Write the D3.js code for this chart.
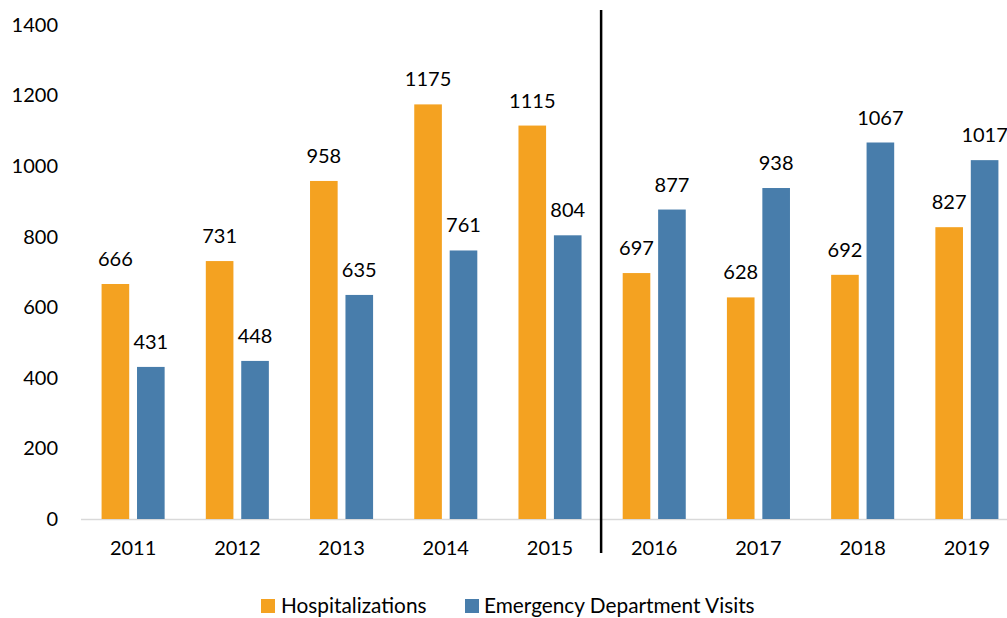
<!DOCTYPE html>
<html>
<head>
<meta charset="utf-8">
<script src="https://cdn.jsdelivr.net/npm/d3@7"></script>
<style>
  html, body { margin: 0; padding: 0; background: #fff; }
  svg { display: block; font-family: Lato, "Open Sans", sans-serif; }
</style>
</head>
<body>
<svg id="chart" width="1007" height="618"></svg>
<script>
// Yearly counts
const years = ["2011", "2012", "2013", "2014", "2015", "2016", "2017", "2018", "2019"];
const hospitalizations = [666, 731, 958, 1175, 1115, 697, 628, 692, 827];
const edVisits = [431, 448, 635, 761, 804, 877, 938, 1067, 1017];
const yTicks = [0, 200, 400, 600, 800, 1000, 1200, 1400];
const seriesNames = ["Hospitalizations", "Emergency Department Visits"];
const seriesColors = ["#F4A221", "#487DAB"];
const dividerAfter = "2015";

const svg = d3.select("#chart");
const plotLeft = 81, plotRight = 1019, plotTop = 25, plotBottom = 519;

const x = d3.scaleBand().domain(years).range([plotLeft, plotRight]).padding(0);
const y = d3.scaleLinear().domain([0, 1400]).range([plotBottom, plotTop]);

const step = x.bandwidth();
const barW = step * 0.265;
const gap = step * 0.075;
const offsets = [step / 2 - gap / 2 - barW, step / 2 + gap / 2];

// y-axis tick labels
const yAxis = d3.axisLeft(y).tickValues(yTicks).tickFormat(d3.format("d")).tickSize(0).tickPadding(0);
const gy = svg.append("g").attr("transform", `translate(58,0)`).call(yAxis);
gy.select(".domain").remove();
gy.selectAll("text").attr("font-size", 20).attr("fill", "#000")
  .attr("font-family", "Lato, 'Open Sans', sans-serif");

// baseline
svg.append("line").attr("x1", plotLeft).attr("x2", plotRight)
  .attr("y1", y(0) + 0.5).attr("y2", y(0) + 0.5)
  .attr("stroke", "#D9D9D9").attr("stroke-width", 1.5);

// bars + value labels
const series = [hospitalizations, edVisits];
series.forEach((vals, si) => {
  const g = svg.append("g");
  g.selectAll("rect").data(vals).join("rect")
    .attr("x", (d, i) => x(years[i]) + offsets[si])
    .attr("y", d => y(d))
    .attr("width", barW)
    .attr("height", d => y(0) - y(d))
    .attr("fill", seriesColors[si]);
  g.selectAll("text").data(vals).join("text")
    .attr("x", (d, i) => x(years[i]) + offsets[si] + barW / 2)
    .attr("y", d => y(d) - 18)
    .attr("text-anchor", "middle")
    .attr("font-size", 20)
    .attr("fill", "#000")
    .text(d => d);
});

// x-axis labels
const xAxis = d3.axisBottom(x).tickSize(0).tickPadding(0);
const gx = svg.append("g").attr("transform", `translate(0,${plotBottom + 22})`).call(xAxis);
gx.select(".domain").remove();
gx.selectAll("text").attr("font-size", 20).attr("fill", "#000")
  .attr("font-family", "Lato, 'Open Sans', sans-serif");

// divider between 2015 and 2016
const divX = x(dividerAfter) + step - 1;
svg.append("line").attr("x1", divX).attr("x2", divX)
  .attr("y1", 10).attr("y2", 553)
  .attr("stroke", "#000").attr("stroke-width", 2.5);

// legend
const legendItems = [{ x: 261, tx: 281 }, { x: 465, tx: 484 }];
legendItems.forEach((it, i) => {
  svg.append("rect").attr("x", it.x).attr("y", 599).attr("width", 14).attr("height", 14)
    .attr("fill", seriesColors[i]);
  svg.append("text").attr("x", it.tx).attr("y", 612.5).attr("font-size", 20.8)
    .attr("fill", "#000").text(seriesNames[i]);
});
</script>
</body>
</html>
